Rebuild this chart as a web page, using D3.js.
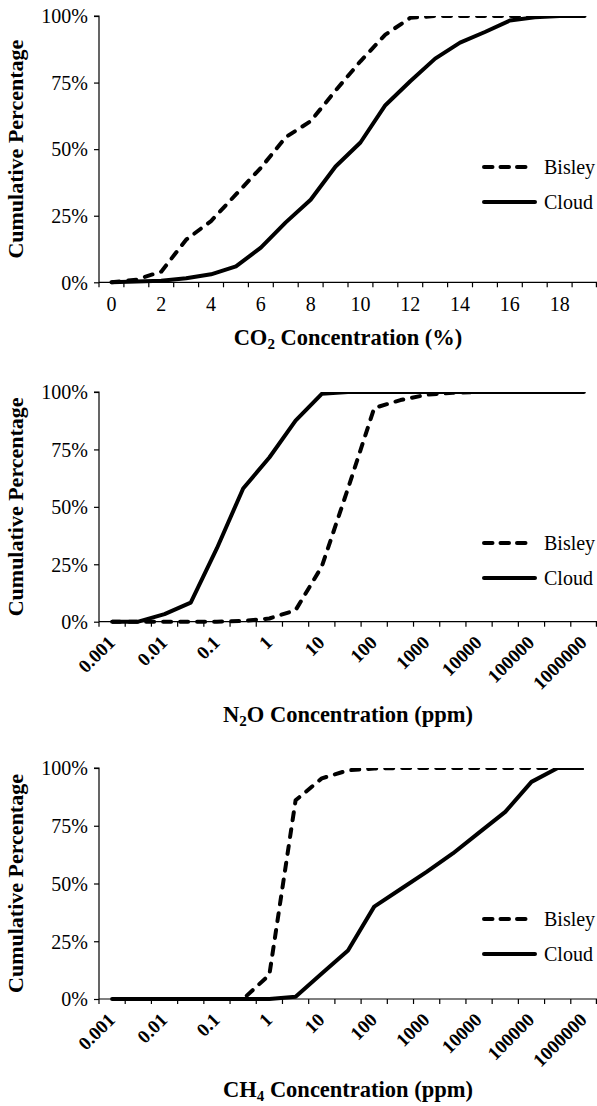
<!DOCTYPE html>
<html>
<head>
<meta charset="utf-8">
<script src="https://cdn.jsdelivr.net/npm/d3@7"></script>
<style>
  html, body { margin: 0; padding: 0; background: #fff; }
  svg { display: block; }
</style>
</head>
<body>
<svg id="chart" width="597" height="1106"></svg>
<script>
// ---------- DATA ----------
const co2Categories = ["0","1","2","3","4","5","6","7","8","9","10","11","12","13","14","15","16","17","18","19"];
const co2TickLabels = ["0","2","4","6","8","10","12","14","16","18"];
const co2Bisley = [0, 1, 4, 16, 23, 33, 43, 54.5, 60.5, 72, 83, 93, 99.3, 100, 100, 100, 100, 100, 100, 100];
const co2Cloud  = [0, 0.3, 0.6, 1.5, 3, 6, 13, 22.5, 31, 43.5, 52.5, 66.5, 75.5, 84, 90, 94, 98.3, 99.5, 100, 100];

const logCategories = ["0.001","0.005","0.01","0.05","0.1","0.5","1","5","10","50","100","500","1000","5000","10000","50000","100000","500000","1000000"];
const logTickLabels = ["0.001","0.01","0.1","1","10","100","1000","10000","100000","1000000"];

const n2oBisley = [0, 0, 0, 0, 0, 0.3, 1.4, 5, 24, 58, 93, 96.5, 98.8, 99.7, 100, 100, 100, 100, 100];
const n2oCloud  = [0, 0, 3.3, 8.3, 32, 58, 71.5, 87.5, 99.2, 100, 100, 100, 100, 100, 100, 100, 100, 100, 100];

const ch4Bisley = [0, 0, 0, 0, 0, 0, 10.5, 86, 95.5, 99, 99.8, 100, 100, 100, 100, 100, 100, 100, 100];
const ch4Cloud  = [0, 0, 0, 0, 0, 0, 0, 1, 11, 21, 40, 47.5, 55, 63, 72, 81, 94, 100, 100];

const yTicks = [0, 25, 50, 75, 100];
const seriesNames = ["Bisley", "Cloud"];

// ---------- LAYOUT ----------
const svg = d3.select("#chart");
const left = 99, right = 597;
const FONT = "Liberation Serif";

const panels = [
  { id: "co2", top: 16, bottom: 282.3, cats: co2Categories, ticks: co2TickLabels, rotate: false,
    bisley: co2Bisley, cloud: co2Cloud, title: ["CO", "2", " Concentration (%)"], titleY: 345 },
  { id: "n2o", top: 392, bottom: 621.7, cats: logCategories, ticks: logTickLabels, rotate: true,
    bisley: n2oBisley, cloud: n2oCloud, title: ["N", "2", "O Concentration (ppm)"], titleY: 721.5 },
  { id: "ch4", top: 768, bottom: 999, cats: logCategories, ticks: logTickLabels, rotate: true,
    bisley: ch4Bisley, cloud: ch4Cloud, title: ["CH", "4", " Concentration (ppm)"], titleY: 1096.5 }
];

panels.forEach((p) => {
  const g = svg.append("g");
  const x = d3.scaleBand().domain(p.cats).range([left, right]).paddingInner(0).paddingOuter(0);
  const cx = d => x(d) + x.bandwidth() / 2;
  const y = d3.scaleLinear().domain([0, 100]).range([p.bottom, p.top]);

  const clipId = "clip-" + p.id;
  svg.append("clipPath").attr("id", clipId)
    .append("rect").attr("x", left - 10).attr("y", p.top).attr("width", right - left + 20).attr("height", p.bottom - p.top + 10);

  // Y axis
  const yAxis = d3.axisLeft(y).tickValues(yTicks).tickSize(5).tickPadding(6).tickFormat(d => d + "%");
  const ya = g.append("g").attr("transform", `translate(${left},0)`).call(yAxis);
  ya.attr("font-family", FONT).attr("font-size", 20);
  ya.select(".domain").attr("stroke", "#000").attr("stroke-width", 1.2).attr("d", `M-5,${p.top}H0V${p.bottom}`);
  ya.selectAll(".tick line").attr("stroke", "#000").attr("stroke-width", 1.2);
  ya.selectAll(".tick text").attr("font-family", FONT).attr("font-size", 20).attr("fill", "#000").attr("dy", "0.34em");

  // X axis line + tick marks at category boundaries
  const xa = g.append("g");
  xa.append("line").attr("x1", left).attr("x2", right).attr("y1", p.bottom).attr("y2", p.bottom)
    .attr("stroke", "#000").attr("stroke-width", 1.2);
  const bounds = p.cats.map(d => x(d)).concat([right - 0.6]);
  xa.selectAll("line.tk").data(bounds).enter().append("line").attr("class", "tk")
    .attr("x1", d => d).attr("x2", d => d).attr("y1", p.bottom).attr("y2", p.bottom + 5)
    .attr("stroke", "#000").attr("stroke-width", 1.2);

  if (!p.rotate) {
    xa.selectAll("text.tl").data(p.ticks).enter().append("text").attr("class", "tl")
      .attr("x", d => cx(d)).attr("y", p.bottom + 28.5)
      .attr("text-anchor", "middle").attr("font-family", FONT).attr("font-size", 20).attr("fill", "#000")
      .text(d => d);
  } else {
    xa.selectAll("text.tl").data(p.ticks).enter().append("text").attr("class", "tl")
      .attr("transform", d => `translate(${cx(d) + 4},${p.bottom + 22}) rotate(-45)`)
      .attr("text-anchor", "end").attr("font-family", FONT).attr("font-size", 19).attr("font-weight", "bold")
      .attr("fill", "#000")
      .text(d => d);
  }

  // X title
  const t = g.append("text").attr("x", (left + right) / 2).attr("y", p.titleY)
    .attr("text-anchor", "middle").attr("font-family", FONT).attr("font-size", 22.5).attr("font-weight", "bold");
  t.append("tspan").text(p.title[0]);
  t.append("tspan").attr("font-size", 15).attr("dy", 4).text(p.title[1]);
  t.append("tspan").attr("dy", -4).text(p.title[2]);

  // Y title
  g.append("text").attr("transform", `translate(23,${(p.top + p.bottom) / 2}) rotate(-90)`)
    .attr("text-anchor", "middle").attr("font-family", FONT).attr("font-size", 22).attr("font-weight", "bold")
    .text("Cumulative Percentage");

  // lines
  const line = d3.line().x((d, i) => cx(p.cats[i])).y(d => y(d));
  const lg = g.append("g").attr("clip-path", `url(#${clipId})`);
  lg.append("path").datum(p.cloud).attr("d", line).attr("fill", "none")
    .attr("stroke", "#000").attr("stroke-width", 4).attr("stroke-linejoin", "round");
  lg.append("path").datum(p.bisley).attr("d", line).attr("fill", "none")
    .attr("stroke", "#000").attr("stroke-width", 4).attr("stroke-dasharray", "8,9")
    .attr("stroke-linecap", "round").attr("stroke-linejoin", "round");

  // legend
  const leg = g.append("g");
  const legY = [p.top + 151, p.top + 186];
  seriesNames.forEach((name, i) => {
    leg.append("line").attr("x1", 484).attr("x2", i === 0 ? 526 : 535).attr("y1", legY[i]).attr("y2", legY[i])
      .attr("stroke", "#000").attr("stroke-width", 4)
      .attr("stroke-dasharray", i === 0 ? "8.5,8" : null)
      .attr("stroke-linecap", "round");
    leg.append("text").attr("x", 544).attr("y", legY[i]).attr("dy", "0.35em")
      .attr("font-family", FONT).attr("font-size", 20).attr("fill", "#000").text(name);
  });
});
</script>
</body>
</html>
